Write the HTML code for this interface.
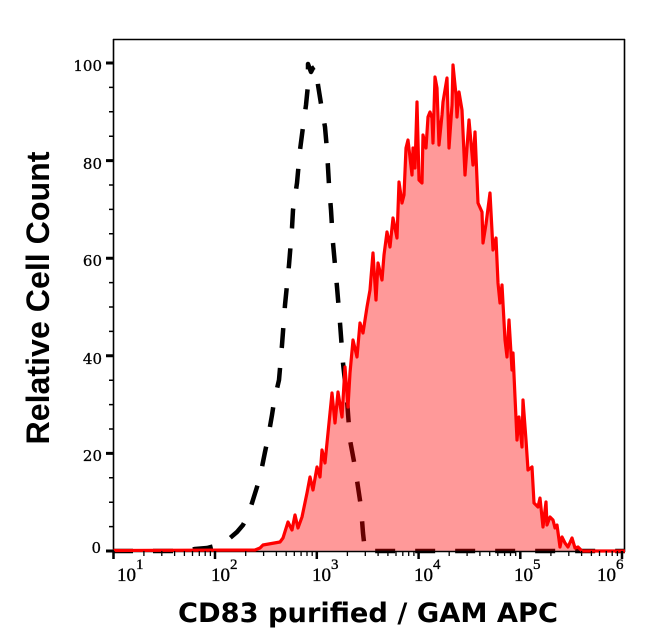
<!DOCTYPE html>
<html><head><meta charset="utf-8"><style>
html,body{margin:0;padding:0;background:#fff;}
svg{display:block;}
</style></head><body>
<svg width="646" height="641" viewBox="0 0 646 641" xmlns="http://www.w3.org/2000/svg">
<rect width="646" height="641" fill="#fff"/>
<!-- dashed control curve -->
<path d="M113,551 L185,551 L195,549 L207,548 L215,546 L222,543 L230,538 L237,532 L243,525 L248,515 L252,503 L257,487 L260,477 L265,452 L268,438 L272,415 L274,402 L276,393 L279,380 L282,345 L285,305 L289,265 L292,228 L293,210 L297,183 L300,150 L303,127 L306,105 L308,85 L308,64 L311,72 L313,68 L316,66 L318,85 L322,110 L325,127 L327,150 L329,185 L331,210 L333,243 L337,287 L340,323 L343,363 L347,400 L350,440 L355,467 L358,487 L361,507 L363,533 L365,551 L625,551" fill="none" stroke="#000" stroke-width="4.5" stroke-dasharray="20 20" stroke-linejoin="round"/>
<!-- red histogram fill -->
<path d="M113,550.5 L255,550 L260,548 L263,545 L280,542 L283,538 L288,522 L292,530 L295,515 L298,528 L302,517 L307,493 L310,477 L313,490 L317,467 L320,477 L322,450 L325,463 L328,433 L332,393 L335,423 L338,392 L342,417 L345,367 L348,407 L350,373 L353,340 L357,357 L360,323 L363,333 L367,307 L370,290 L373,253 L376,300 L378,263 L382,280 L384,255 L387,232 L390,247 L393,218 L397,238 L399,182 L402,203 L404,195 L406,148 L408,140 L412,175 L413,148 L415,168 L417,102 L419,180 L422,183 L423,135 L426,148 L428,117 L430,112 L432,118 L433,143 L435,77 L437,88 L439,145 L442,115 L443,102 L447,78 L449,148 L452,105 L453,65 L456,95 L457,117 L459,92 L462,110 L465,175 L469,120 L473,165 L475,132 L478,203 L482,212 L483,243 L486,224 L490,193 L493,250 L496,238 L498,283 L500,303 L502,285 L505,340 L507,357 L509,320 L512,370 L513,353 L515,397 L517,440 L519,417 L522,447 L523,400 L526,440 L528,470 L532,467 L534,503 L538,507 L540,498 L543,527 L546,502 L547,525 L550,517 L553,520 L555,528 L557,525 L560,547 L562,537 L565,543 L568,547 L572,538 L575,548 L578,547 L582,551 L625,551" fill="rgba(255,0,0,0.4)" stroke="none"/>
<!-- axes frame -->
<path d="M113.5,39 L113.5,552 M113,39.5 L625,39.5 M624.5,39 L624.5,552 M113,551.5 L625,551.5" stroke="#000" stroke-width="1.6" fill="none"/>
<path d="M113,550.5 L255,550 L260,548 L263,545 L280,542 L283,538 L288,522 L292,530 L295,515 L298,528 L302,517 L307,493 L310,477 L313,490 L317,467 L320,477 L322,450 L325,463 L328,433 L332,393 L335,423 L338,392 L342,417 L345,367 L348,407 L350,373 L353,340 L357,357 L360,323 L363,333 L367,307 L370,290 L373,253 L376,300 L378,263 L382,280 L384,255 L387,232 L390,247 L393,218 L397,238 L399,182 L402,203 L404,195 L406,148 L408,140 L412,175 L413,148 L415,168 L417,102 L419,180 L422,183 L423,135 L426,148 L428,117 L430,112 L432,118 L433,143 L435,77 L437,88 L439,145 L442,115 L443,102 L447,78 L449,148 L452,105 L453,65 L456,95 L457,117 L459,92 L462,110 L465,175 L469,120 L473,165 L475,132 L478,203 L482,212 L483,243 L486,224 L490,193 L493,250 L496,238 L498,283 L500,303 L502,285 L505,340 L507,357 L509,320 L512,370 L513,353 L515,397 L517,440 L519,417 L522,447 L523,400 L526,440 L528,470 L532,467 L534,503 L538,507 L540,498 L543,527 L546,502 L547,525 L550,517 L553,520 L555,528 L557,525 L560,547 L562,537 L565,543 L568,547 L572,538 L575,548 L578,547 L582,551 L625,551" fill="none" stroke="#f00" stroke-width="3.2" stroke-linejoin="round"/>
<!-- y major ticks -->
<path d="M106,551 H114 M106,453.4 H114 M106,355.8 H114 M106,258.2 H114 M106,160.6 H114 M106,63 H114" stroke="#000" stroke-width="3"/>
<!-- y minor ticks -->
<path d="M109,526.6 H114 M109,502.2 H114 M109,477.8 H114 M109,429 H114 M109,404.6 H114 M109,380.2 H114 M109,331.4 H114 M109,307 H114 M109,282.6 H114 M109,233.8 H114 M109,209.4 H114 M109,185 H114 M109,136.2 H114 M109,111.8 H114 M109,87.4 H114" stroke="#000" stroke-width="1.5"/>
<!-- x major ticks -->
<path d="M113.5,551 V559 M215,551 V559 M316.8,551 V559 M418.6,551 V559 M520.3,551 V559 M622,551 V559" stroke="#000" stroke-width="2.5"/>
<!-- x minor ticks -->
<path d="M143.9,551V556 M161.8,551V556 M174.6,551V556 M184.4,551V556 M192.5,551V556 M199.3,551V556 M205.2,551V556 M210.4,551V556 M245.7,551V556 M263.6,551V556 M276.4,551V556 M286.2,551V556 M294.3,551V556 M301.1,551V556 M307,551V556 M312.2,551V556 M347.4,551V556 M365.3,551V556 M378.1,551V556 M387.9,551V556 M396,551V556 M402.8,551V556 M408.7,551V556 M413.9,551V556 M449.2,551V556 M467.1,551V556 M479.9,551V556 M489.7,551V556 M497.8,551V556 M504.6,551V556 M510.5,551V556 M515.7,551V556 M550.9,551V556 M568.8,551V556 M581.6,551V556 M591.4,551V556 M599.5,551V556 M606.3,551V556 M612.2,551V556 M617.4,551V556" stroke="#000" stroke-width="1.3"/>
<!-- y tick labels -->
<g font-family="DejaVu Serif, Liberation Serif, serif" font-size="15" fill="#000" stroke="#000" stroke-width="0.3" text-anchor="end">
<text x="102" y="71">100</text>
<text x="102" y="169">80</text>
<text x="102" y="266">60</text>
<text x="102" y="364">40</text>
<text x="102" y="461">20</text>
<text x="101" y="553">0</text>
</g>
<!-- x tick labels -->
<g fill="#000" stroke="#000" stroke-width="0.35" font-family="Liberation Serif, serif">
<text x="117" y="581" font-size="19">10</text><text x="136" y="569" font-size="15">1</text>
<text x="211" y="581" font-size="19">10</text><text x="230" y="569" font-size="15">2</text>
<text x="312" y="581" font-size="19">10</text><text x="331" y="569" font-size="15">3</text>
<text x="414" y="581" font-size="19">10</text><text x="433" y="569" font-size="15">4</text>
<text x="514" y="581" font-size="19">10</text><text x="533" y="569" font-size="15">5</text>
<text x="597" y="581" font-size="19">10</text><text x="616" y="569" font-size="15">6</text>
</g>
<!-- axis titles -->
<text x="178" y="622" font-family="DejaVu Sans, Liberation Sans, sans-serif" font-weight="bold" font-size="27" textLength="380" lengthAdjust="spacingAndGlyphs" fill="#000">CD83 purified / GAM APC</text>
<text transform="translate(49,298) rotate(-90)" text-anchor="middle" font-family="Liberation Sans, Arial, sans-serif" font-weight="bold" font-size="32" textLength="293" lengthAdjust="spacingAndGlyphs" fill="#000">Relative Cell Count</text>
</svg>
</body></html>
